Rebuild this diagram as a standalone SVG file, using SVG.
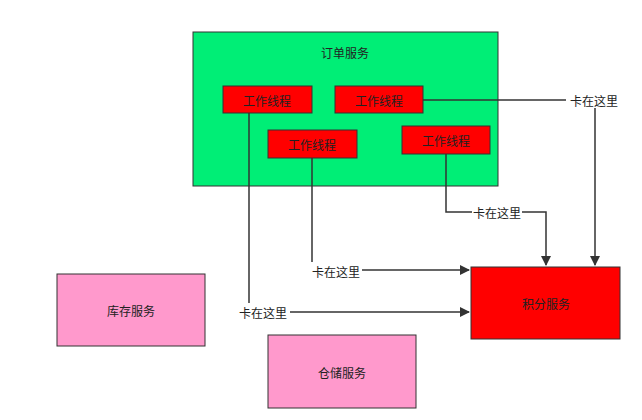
<svg xmlns="http://www.w3.org/2000/svg" width="642" height="420" viewBox="0 0 642 420">
<defs>
<marker id="ah" markerWidth="10" markerHeight="10" refX="9" refY="5" orient="auto" markerUnits="userSpaceOnUse"><path d="M0,0 L10,5 L0,10 Z" fill="#333"/></marker>
<style>
text{font-family:"Noto Sans CJK SC",sans-serif;font-size:12px;fill:#222;text-anchor:middle;dominant-baseline:central}
.w{fill:#ff0000;stroke:#333;stroke-width:1}
.p{fill:#ff99cc;stroke:#333;stroke-width:1}
.c{fill:none;stroke:#333;stroke-width:1.5}
.lb{fill:#fff}
</style>
</defs>
<rect width="642" height="420" fill="#fff"/>
<g id="order"><rect x="193" y="32" width="305" height="154" fill="#00ee76" stroke="#333"/><text x="345" y="52">订单服务</text></g>
<g id="w1"><rect class="w" x="223" y="86" width="89" height="27"/><text x="267" y="100">工作线程</text></g>
<g id="w2"><rect class="w" x="335" y="86" width="88" height="27"/><text x="379" y="100">工作线程</text></g>
<g id="w3"><rect class="w" x="268" y="130" width="89" height="28"/><text x="312" y="144">工作线程</text></g>
<g id="w4"><rect class="w" x="402" y="126" width="88" height="28"/><text x="446" y="140">工作线程</text></g>
<g id="points"><rect class="w" x="471" y="267" width="149" height="72"/><text x="546" y="303">积分服务</text></g>
<g id="inventory"><rect class="p" x="57" y="274" width="148" height="72"/><text x="131" y="310">库存服务</text></g>
<g id="storage"><rect class="p" x="268" y="335" width="148" height="73"/><text x="342" y="372">仓储服务</text></g>
<g id="connectors">
<path class="c" d="M423,100 H566"/>
<path class="c" d="M595,108 V265" marker-end="url(#ah)"/>
<text x="594" y="100">卡在这里</text>
<path class="c" d="M446,154 V212 H472"/>
<path class="c" d="M522,212 H546 V265" marker-end="url(#ah)"/>
<text x="497" y="212">卡在这里</text>
<path class="c" d="M312,158 V262"/>
<path class="c" d="M362,270 H469" marker-end="url(#ah)"/>
<text x="336" y="271">卡在这里</text>
<path class="c" d="M249,113 V303"/>
<path class="c" d="M290,312 H469" marker-end="url(#ah)"/>
<text x="263" y="312">卡在这里</text>
</g>
</svg>
